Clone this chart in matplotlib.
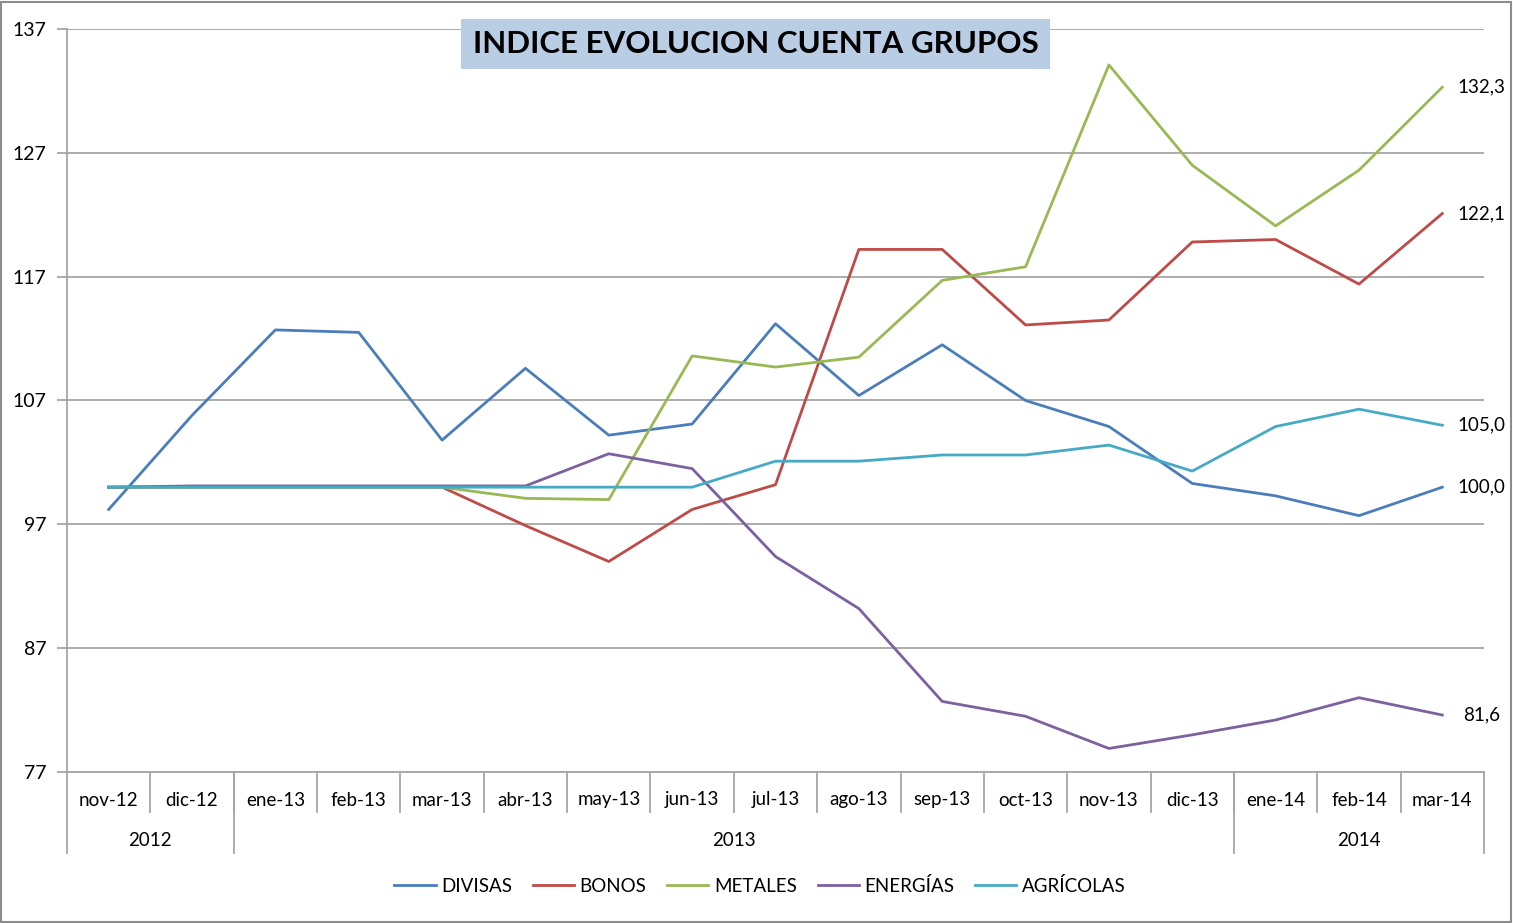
import matplotlib.pyplot as plt
import matplotlib.transforms as mtransforms
from matplotlib.patches import Rectangle

plt.rcParams['font.family'] = ['Lato', 'DejaVu Sans']

months = ['nov-12', 'dic-12', 'ene-13', 'feb-13', 'mar-13', 'abr-13', 'may-13',
          'jun-13', 'jul-13', 'ago-13', 'sep-13', 'oct-13', 'nov-13', 'dic-13',
          'ene-14', 'feb-14', 'mar-14']
years = ['2012', '2013', '2014']
year_counts = [2, 12, 3]

divisas = [98.2, 105.8, 112.7, 112.5, 103.8, 109.6, 104.2, 105.1, 113.2, 107.4,
           111.5, 107.0, 104.9, 100.3, 99.3, 97.7, 100.0]
bonos = [100.0, 100.0, 100.0, 100.0, 100.0, 96.9, 94.0, 98.2, 100.2, 119.2,
         119.2, 113.1, 113.5, 119.8, 120.0, 116.4, 122.1]
metales = [100.0, 100.0, 100.0, 100.0, 100.0, 99.1, 99.0, 110.6, 109.7, 110.5,
           116.7, 117.8, 134.1, 126.0, 121.1, 125.6, 132.3]
energias = [100.0, 100.1, 100.1, 100.1, 100.1, 100.1, 102.7, 101.5, 94.4, 90.2,
            82.7, 81.5, 78.9, 80.0, 81.2, 83.0, 81.6]
agricolas = [100.0, 100.0, 100.0, 100.0, 100.0, 100.0, 100.0, 100.0, 102.1, 102.1,
             102.6, 102.6, 103.4, 101.3, 104.9, 106.3, 105.0]

series = [('DIVISAS', divisas, '#4A7EBB'),
          ('BONOS', bonos, '#BE4B48'),
          ('METALES', metales, '#98B954'),
          ('ENERGÍAS', energias, '#7D60A0'),
          ('AGRÍCOLAS', agricolas, '#46AAC5')]

fig = plt.figure(figsize=(15.13, 9.23), dpi=100)
ax = fig.add_axes([67 / 1513, 1 - 772 / 923, 1417 / 1513, 743 / 923])

x = list(range(len(months)))
for name, vals, col in series:
    ax.plot(x, vals, color=col, lw=2.0, label=name, solid_joinstyle='round')
    # etiqueta del último valor
    ax.annotate(f'{vals[-1]:.1f}'.replace('.', ','), (x[-1], vals[-1]),
                xytext=(39, 0), textcoords='offset pixels', ha='center',
                va='center', fontsize=13.5)

ax.set_xlim(-0.5, len(months) - 0.5)
ax.set_ylim(77, 137)
ax.set_yticks(range(77, 138, 10))
ax.grid(axis='y', color='#A6A6A6', lw=1.3)
ax.set_axisbelow(True)
for s in ['top', 'right']:
    ax.spines[s].set_visible(False)
ax.spines['left'].set_color('#A6A6A6')
ax.spines['bottom'].set_color('#A6A6A6')
ax.spines['left'].set_linewidth(1.3)
ax.spines['bottom'].set_linewidth(1.3)
ax.tick_params(axis='y', length=7, width=1.3, color='#A6A6A6', labelsize=14, pad=8)
ax.set_xticks([])

# eje de categorías en dos niveles (mes / año)
trans = mtransforms.blended_transform_factory(ax.transData, ax.transAxes)
h1 = 40 / 743
h2 = 81 / 743
for i, m in enumerate(months):
    ax.text(i, -28 / 743, m, transform=trans, ha='center', va='center', fontsize=13.5)
for i in range(len(months) - 1):
    ax.plot([i + 0.5, i + 0.5], [0, -h1], transform=trans, color='#A6A6A6',
            lw=1.3, clip_on=False)
start = -0.5
bounds = [start]
for y, n in zip(years, year_counts):
    end = start + n
    ax.text((start + end) / 2, -68 / 743, y, transform=trans, ha='center',
            va='center', fontsize=13.5)
    bounds.append(end)
    start = end
for b in bounds:
    ax.plot([b, b], [0, -h2], transform=trans, color='#A6A6A6', lw=1.3,
            clip_on=False)

fig.text(755.5 / 1513, 1 - 44 / 923, 'INDICE EVOLUCION CUENTA GRUPOS',
         ha='center', va='center', fontsize=22.5, fontweight='bold',
         bbox=dict(facecolor='#B9CDE5', edgecolor='none', pad=8))

fig.legend(loc='center', bbox_to_anchor=(760 / 1513, 1 - 886 / 923), ncol=5,
           frameon=False, fontsize=13.5, handlelength=2.2, handletextpad=0.3,
           columnspacing=1.1)

fig.patches.append(Rectangle((1 / 1513, 1 / 923), 1 - 3 / 1513, 1 - 3 / 923,
                             transform=fig.transFigure, fill=False,
                             edgecolor='#8C8C8C', lw=1.5))

fig.savefig('out.png', dpi=100)
